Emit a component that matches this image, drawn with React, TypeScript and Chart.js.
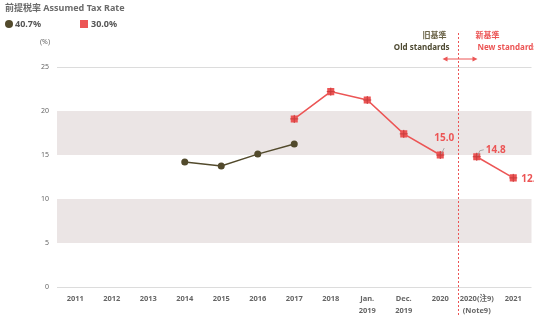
import React, { useEffect, useRef } from "react";
import { Chart, registerables } from "chart.js";

Chart.register(...registerables);

const categories: (string | string[])[] = [
  "2011", "2012", "2013", "2014", "2015", "2016", "2017", "2018",
  ["Jan.", "2019"], ["Dec.", "2019"], "2020", ["2020(注9)", "(Note9)"], "2021",
];
const rateOld: (number | null)[] = [null, null, null, 14.2, 13.75, 15.1, 16.25, null, null, null, null, null, null];
const rateNewA: (number | null)[] = [null, null, null, null, null, null, 19.1, 22.2, 21.25, 17.4, 15.0, null, null];
const rateNewB: (number | null)[] = [null, null, null, null, null, null, null, null, null, null, null, 14.8, 12.4];
const yTicks: number[] = [0, 5, 10, 15, 20, 25];
const bands: [number, number][] = [[5, 10], [15, 20]];
const legendLabels: string[] = ["40.7%", "30.0%"];

const OLIVE = "#524a2c";
const RED = "#ec5555";
const FONT = "'Noto Sans', 'Noto Sans CJK JP', sans-serif";

export default function App() {
  const ref = useRef<HTMLCanvasElement | null>(null);
  useEffect(() => {
    document.body.style.margin = "0";
    document.body.style.overflow = "hidden";
    const canvas = ref.current!;
    const bandPlugin = {
      id: "bands",
      beforeDatasetsDraw(chart: any) {
        const { ctx, chartArea, scales } = chart;
        ctx.save();
        ctx.fillStyle = "#ebe5e5";
        for (const [a, b] of bands) {
          const y1 = scales.y.getPixelForValue(b);
          const y2 = scales.y.getPixelForValue(a);
          ctx.fillRect(chartArea.left, y1, chartArea.right - chartArea.left, y2 - y1);
        }
        ctx.restore();
      },
    };
    const decoPlugin = {
      id: "deco",
      afterDatasetsDraw(chart: any) {
        const { ctx, scales } = chart;
        ctx.save();
        [1, 2].forEach((di) => {
          const meta = chart.getDatasetMeta(di);
          meta.data.forEach((pt: any, i: number) => {
            const v = chart.data.datasets[di].data[i];
            if (v == null) return;
            ctx.strokeStyle = "#c83c3c";
            ctx.lineWidth = 1;
            ctx.beginPath();
            ctx.moveTo(pt.x - 4, pt.y);
            ctx.lineTo(pt.x + 4, pt.y);
            ctx.moveTo(pt.x, pt.y - 4);
            ctx.lineTo(pt.x, pt.y + 4);
            ctx.stroke();
          });
        });
        ctx.font = `bold 10px ${FONT}`;
        ctx.fillStyle = RED;
        ctx.textBaseline = "middle";
        const m1 = chart.getDatasetMeta(1);
        const m2 = chart.getDatasetMeta(2);
        const p10 = m1.data[10];
        const p11 = m2.data[11];
        const p12 = m2.data[12];
        ctx.textAlign = "center";
        ctx.fillText(rateNewA[10]!.toFixed(1), p10.x + 4, p10.y - 17);
        ctx.textAlign = "left";
        ctx.fillText(rateNewB[11]!.toFixed(1), p11.x + 9, p11.y - 7);
        ctx.fillText(rateNewB[12]!.toFixed(1), p12.x + 8, p12.y + 1);
        ctx.strokeStyle = "#999";
        ctx.lineWidth = 0.8;
        ctx.beginPath();
        ctx.moveTo(p10.x + 1, p10.y - 1);
        ctx.lineTo(p10.x + 4, p10.y - 7);
        ctx.moveTo(p11.x + 1, p11.y - 1);
        ctx.lineTo(p11.x + 3, p11.y - 6);
        ctx.lineTo(p11.x + 7, p11.y - 7);
        ctx.stroke();
        const xd = (scales.x.getPixelForValue(10) + scales.x.getPixelForValue(11)) / 2;
        ctx.strokeStyle = RED;
        ctx.lineWidth = 1;
        ctx.setLineDash([2, 2]);
        ctx.beginPath();
        ctx.moveTo(xd, 33);
        ctx.lineTo(xd, chart.height);
        ctx.stroke();
        ctx.setLineDash([]);
        const ay = 59;
        ctx.beginPath();
        ctx.moveTo(xd - 13, ay);
        ctx.lineTo(xd + 16, ay);
        ctx.stroke();
        ctx.fillStyle = RED;
        ctx.beginPath();
        ctx.moveTo(xd - 16, ay); ctx.lineTo(xd - 11, ay - 2.5); ctx.lineTo(xd - 11, ay + 2.5); ctx.closePath();
        ctx.moveTo(xd + 19, ay); ctx.lineTo(xd + 14, ay - 2.5); ctx.lineTo(xd + 14, ay + 2.5); ctx.closePath();
        ctx.fill();
        ctx.font = `bold 8px ${FONT}`;
        ctx.textAlign = "right";
        ctx.fillStyle = "#6b6448";
        ctx.fillText("旧基準", xd - 12, 36);
        ctx.fillStyle = "#4e4a32";
        ctx.fillText("Old standards", xd - 9, 48);
        ctx.textAlign = "left";
        ctx.fillStyle = RED;
        ctx.fillText("新基準", xd + 17, 36);
        ctx.fillText("New standards", xd + 19, 48);
        ctx.font = `bold 9px ${FONT}`;
        ctx.fillStyle = "#6b6b6b";
        ctx.textAlign = "left";
        ctx.fillText("前提税率 Assumed Tax Rate", 5, 8);
        ctx.fillStyle = OLIVE;
        ctx.beginPath();
        ctx.arc(9, 24, 4, 0, Math.PI * 2);
        ctx.fill();
        ctx.fillStyle = "#555";
        ctx.fillText(legendLabels[0], 15, 24);
        ctx.fillStyle = RED;
        ctx.fillRect(80, 20, 8, 8);
        ctx.fillStyle = "#555";
        ctx.fillText(legendLabels[1], 91, 24);
        ctx.font = `7px ${FONT}`;
        ctx.fillStyle = "#666";
        ctx.fillText("(%)", 40, 42);
        ctx.restore();
      },
    };
    const chart = new Chart(canvas, {
      type: "line",
      data: {
        labels: categories,
        datasets: [
          {
            label: legendLabels[0], data: rateOld, borderColor: OLIVE, backgroundColor: OLIVE,
            borderWidth: 1.5, pointRadius: 3.5, pointStyle: "circle", pointBorderWidth: 0,
          },
          {
            label: legendLabels[1], data: rateNewA, borderColor: RED, backgroundColor: RED,
            borderWidth: 1.5, pointRadius: 5, pointStyle: "rect", pointBorderWidth: 0,
          },
          {
            label: legendLabels[1], data: rateNewB, borderColor: RED, backgroundColor: RED,
            borderWidth: 1.5, pointRadius: 5, pointStyle: "rect", pointBorderWidth: 0,
          },
        ],
      },
      options: {
        animation: false,
        responsive: false,
        layout: { padding: { top: 67, right: 48.5, left: 0, bottom: 0 } },
        plugins: { legend: { display: false }, tooltip: { enabled: false }, title: { display: false } },
        scales: {
          x: {
            offset: true,
            grid: { display: false, drawTicks: false, offset: true },
            border: { display: false },
            ticks: { color: "#666", font: { family: FONT, size: 7.5, weight: "bold", lineHeight: 1.6 }, padding: 6, maxRotation: 0, autoSkip: false },
            afterFit(s: any) { s.height = 29; },
          },
          y: {
            min: 0, max: 25,
            afterBuildTicks(s: any) { s.ticks = yTicks.map((v) => ({ value: v })); },
            grid: {
              drawTicks: false,
              color: (c: any) => (c.tick && (c.tick.value === 0 || c.tick.value === 25) ? "#dcdcdc" : "rgba(0,0,0,0)"),
            },
            border: { display: false },
            ticks: { color: "#666", font: { family: FONT, size: 7 }, padding: 8 },
            afterFit(s: any) { s.width = 57; },
          },
        },
      },
      plugins: [bandPlugin, decoPlugin],
    });
    return () => chart.destroy();
  }, []);
  return (
    <div style={{ position: "fixed", left: 0, top: 0, width: 580, height: 316 }}>
      <canvas ref={ref} width={580} height={316} />
    </div>
  );
}
